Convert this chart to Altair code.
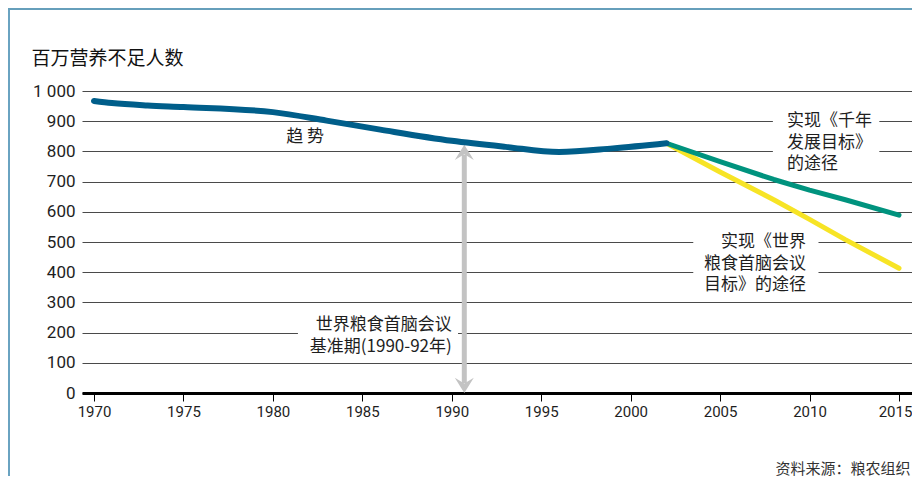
import altair as alt
import pandas as pd

# ---- data ----
trend_years = [1970, 1971, 1973, 1975, 1980, 1983, 1986, 1990, 1993, 1996, 1999, 2002]
trend_values = [967, 960, 952, 947, 930, 902, 872, 835, 815, 798, 810, 827]
mdg_years = [2002, 2005, 2008, 2010, 2012, 2015]
mdg_values = [827, 766, 707, 672, 640, 589]
wfs_years = [2002, 2005, 2008, 2010, 2012, 2015]
wfs_values = [827, 732, 640, 575, 508, 413]
x_ticks = [1970, 1975, 1980, 1985, 1990, 1995, 2000, 2005, 2010, 2015]
y_ticks = [0, 100, 200, 300, 400, 500, 600, 700, 800, 900, 1000]

title_text = "百万营养不足人数"
source_text = "资料来源：粮农组织"

# base-period arrow (year, top value, bottom value)
arrow_year = [1990.7]
arrow_top = [822]
arrow_bottom = [0]

# annotations (data coordinates of the first line)
trend_label = ["趋 势"]
trend_label_x = [1981.8]
trend_label_y = [848]
base_label = ["世界粮食首脑会议\n基准期(1990-92年)"]
base_label_x = [1990.0]
base_label_y = [224]
mdg_label = ["实现《千年\n发展目标》\n的途径"]
mdg_label_x = [2008.74]
mdg_label_y = [900]
wfs_label = ["实现《世界\n粮食首脑会议\n目标》的途径"]
wfs_label_x = [2009.8]
wfs_label_y = [500]

# white boxes behind the labels (break the gridlines)
box_x1 = [1981.4, 2007.95, 2003.5]
box_x2 = [1990.35, 2013.9, 2010.5]
box_y1 = [125, 760, 365]
box_y2 = [255, 935, 535]

CJK = "Noto Sans CJK SC"
NUM = "Roboto"
INK = "#1e1e1e"

xscale = alt.Scale(domain=[1969.329, 2015.727], nice=False, zero=False)
yscale = alt.Scale(domain=[0, 1000], nice=False, zero=False)

x_axis = alt.Axis(
    values=x_ticks, format="d", grid=False,
    domainColor="#000", domainWidth=3,
    tickColor="#000", tickSize=8, tickWidth=1,
    labelFont=NUM, labelFontSize=15, labelColor=INK, labelPadding=3,
    labelOffset={"condition": {"test": "datum.value == 2015", "value": -4}, "value": 0},
    title=source_text, titleFont=CJK, titleFontSize=15, titleFontWeight="normal",
    titleColor="#333", titleAnchor="end", titleAlign="right", titleBaseline="middle",
    titleX=828, titleY=75,
)
y_axis = alt.Axis(
    values=y_ticks, grid=True, gridColor="#4a4a4a", gridWidth=1,
    domain=False, ticks=False,
    labelFont=NUM, labelFontSize=17, labelColor=INK, labelPadding=7,
    labelExpr="replace(format(datum.value, ',d'), ',', ' ')",
    title=title_text, titleFont=CJK, titleFontSize=19, titleFontWeight="normal",
    titleColor="#111", titleAngle=0, titleAlign="left", titleBaseline="middle",
    titleX=-51, titleY=-33,
)

trend_df = pd.DataFrame({"year": trend_years, "value": trend_values})
mdg_df = pd.DataFrame({"year": mdg_years, "value": mdg_values})
wfs_df = pd.DataFrame({"year": wfs_years, "value": wfs_values})
arrow_df = pd.DataFrame({"year": arrow_year, "top": arrow_top, "bottom": arrow_bottom})
box_df = pd.DataFrame({"x1": box_x1, "x2": box_x2, "y1": box_y1, "y2": box_y2})


def X(field):
    return alt.X(field, type="quantitative", scale=xscale, axis=x_axis)


def Y(field):
    return alt.Y(field, type="quantitative", scale=yscale, axis=y_axis)


boxes = alt.Chart(box_df).mark_rect(color="white").encode(
    x=X("x1"), x2="x2", y=Y("y1"), y2="y2"
)

shaft = alt.Chart(arrow_df).mark_rule(
    color="#c3c3c3", strokeWidth=5, yOffset=10, y2Offset=-10
).encode(x=X("year"), y=Y("top"), y2="bottom")

head_up = alt.Chart(arrow_df).mark_point(
    shape="M0,0L1,1.6L0,1L-1,1.6Z", size=361, filled=True, color="#c3c3c3", opacity=1, strokeWidth=0
).encode(x=X("year"), y=Y("top"))
head_down = alt.Chart(arrow_df).mark_point(
    shape="M0,0L1,-1.6L0,-1L-1,-1.6Z", size=361, filled=True, color="#c3c3c3", opacity=1, strokeWidth=0
).encode(x=X("year"), y=Y("bottom"))

wfs = alt.Chart(wfs_df).mark_line(
    color="#f7e425", strokeWidth=5, strokeCap="round", strokeJoin="round"
).encode(x=X("year"), y=Y("value"))
mdg = alt.Chart(mdg_df).mark_line(
    color="#00937e", strokeWidth=5, strokeCap="round", strokeJoin="round"
).encode(x=X("year"), y=Y("value"))
trend = alt.Chart(trend_df).mark_line(
    color="#005e8a", strokeWidth=6, strokeCap="round", strokeJoin="round", interpolate="monotone"
).encode(x=X("year"), y=Y("value"))


def label(texts, xs, ys, align):
    df = pd.DataFrame({"t": texts, "x": xs, "y": ys})
    return alt.Chart(df).mark_text(
        font=CJK, fontSize=17, color=INK, align=align, baseline="middle",
        lineBreak="\n", lineHeight=21.5
    ).encode(x=X("x"), y=Y("y"), text="t:N")


t_trend = label(trend_label, trend_label_x, trend_label_y, "center")
t_base = label(base_label, base_label_x, base_label_y, "right")
t_mdg = label(mdg_label, mdg_label_x, mdg_label_y, "left")
t_wfs = label(wfs_label, wfs_label_x, wfs_label_y, "right")

deco = pd.DataFrame({"k": [0]})
top_bar = alt.Chart(deco).mark_rect(color="#669fbb").encode(
    x=alt.value(-74), x2=alt.value(830), y=alt.value(-83), y2=alt.value(-81)
)
left_bar = alt.Chart(deco).mark_rect(color="#6aa3c1").encode(
    x=alt.value(-74), x2=alt.value(-72), y=alt.value(-81), y2=alt.value(385)
)

chart = alt.layer(
    boxes, shaft, head_up, head_down, wfs, mdg, trend,
    t_trend, t_base, t_mdg, t_wfs, top_bar, left_bar
).properties(
    width=830, height=302,
    autosize=alt.AutoSizeParams(type="none"),
    padding={"left": 74, "top": 83, "right": 0, "bottom": 83},
    background="white",
).configure_view(stroke=None)

chart.save("out.html", embed_options={"renderer": "svg", "actions": False})
